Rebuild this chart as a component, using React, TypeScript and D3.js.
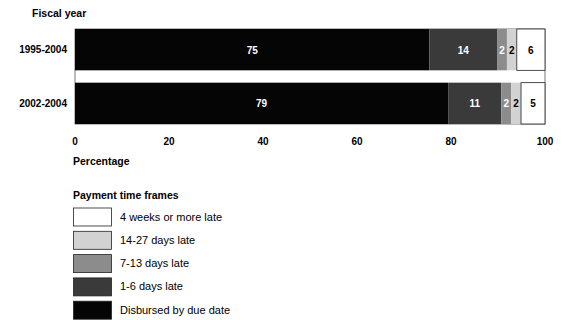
import React from "react";
import * as d3 from "d3";

const categories = ["1995-2004", "2002-2004"];
const seriesNames = [
  "Disbursed by due date",
  "1-6 days late",
  "7-13 days late",
  "14-27 days late",
  "4 weeks or more late",
];
const disbursed = [75.4, 79.4];
const late1to6 = [14.4, 11.3];
const late7to13 = [2.1, 2.1];
const late14to27 = [2.1, 2.1];
const late4weeks = [6.0, 5.1];
const xTicks = [0, 20, 40, 60, 80, 100];

const fills = ["#050505", "#3a3a3a", "#8c8c8c", "#d2d2d2", "#ffffff"];
const labelColors = ["#ffffff", "#ffffff", "#ffffff", "#000000", "#000000"];

const W = 562;
const H = 320;
const font = "'Liberation Sans', Arial, sans-serif";

export default function App() {
  const x = d3.scaleLinear().domain([0, 100]).range([75, 545]);
  const y = d3.scaleBand().domain(categories).range([29, 124]).paddingInner(0.23);

  const table = categories.map((c, i) => ({
    cat: c,
    vals: [disbursed[i], late1to6[i], late7to13[i], late14to27[i], late4weeks[i]],
  }));

  const legendOrder = [4, 3, 2, 1, 0];

  return (
    <svg width={W} height={H} style={{ position: "absolute", left: 0, top: 0, background: "#fff" }} fontFamily={font}>
      <rect x={0} y={0} width={W} height={H} fill="#fff" />
      <text x={32} y={17} fontSize={10.5} fontWeight="bold">Fiscal year</text>
      <rect x={x(0)} y={y.range()[0]} width={x(100) - x(0)} height={y.range()[1] - y.range()[0]} fill="#fff" stroke="#555" strokeWidth={0.8} />
      {table.map((row) => {
        let acc = 0;
        const by = y(row.cat)!;
        const bh = y.bandwidth();
        return (
          <g key={row.cat}>
            <text x={67} y={by + bh / 2 + 3.5} fontSize={10} fontWeight="bold" textAnchor="end">{row.cat}</text>
            {row.vals.map((v, j) => {
              const x0 = x(acc);
              acc += v;
              const x1 = x(acc);
              return (
                <g key={j}>
                  <rect x={x0} y={by} width={x1 - x0} height={bh} fill={fills[j]} stroke={j === 4 ? "#222" : "none"} strokeWidth={0.8} />
                  <text x={(x0 + x1) / 2} y={by + bh / 2 + 4} fontSize={10} fontWeight="bold" textAnchor="middle" fill={labelColors[j]}>
                    {Math.round(v)}
                  </text>
                </g>
              );
            })}
          </g>
        );
      })}
      {xTicks.map((t) => (
        <text key={t} x={x(t)} y={145} fontSize={10} fontWeight="bold" textAnchor="middle">{t}</text>
      ))}
      <text x={73} y={165} fontSize={10.5} fontWeight="bold">Percentage</text>
      <text x={73} y={199} fontSize={10.5} fontWeight="bold">Payment time frames</text>
      {legendOrder.map((j, k) => {
        const ly = 208 + k * 23.3;
        return (
          <g key={j}>
            <rect x={73.5} y={ly} width={38} height={18} fill={fills[j]} stroke="#222" strokeWidth={0.8} />
            <text x={120} y={ly + 12.5} fontSize={11}>{seriesNames[j]}</text>
          </g>
        );
      })}
    </svg>
  );
}
